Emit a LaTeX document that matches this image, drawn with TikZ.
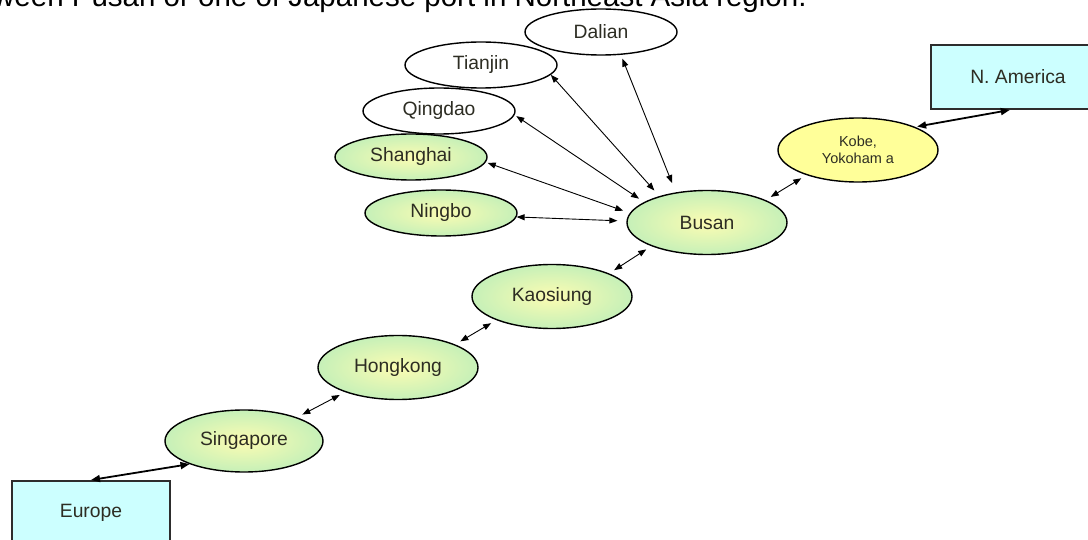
\documentclass[tikz,border=0pt]{standalone}
\usepackage{fontspec}
\setmainfont{Liberation Sans}
\usetikzlibrary{arrows.meta,shapes.geometric,calc}
\definecolor{gout}{RGB}{198,240,184}
\definecolor{gin}{RGB}{252,252,178}
\definecolor{kobefill}{RGB}{255,255,153}
\definecolor{boxfill}{RGB}{204,255,255}
\definecolor{boxline}{RGB}{45,45,45}
\definecolor{txt}{RGB}{45,45,35}
\begin{document}
\begin{tikzpicture}[x=1pt,y=-1pt,
  port/.style={ellipse, draw=black, line width=1.4pt, inner sep=0pt,
    minimum width=160pt, minimum height=64pt,
    font=\fontsize{19.3}{22}\selectfont, text=txt},
  greenport/.style={port, inner color=gin, outer color=gout},
  smallport/.style={port, minimum width=152pt, minimum height=46pt},
  whiteport/.style={smallport, fill=white},
  smallgreen/.style={smallport, inner color=gin, outer color=gout},
  region/.style={rectangle, draw=boxline, line width=2pt, fill=boxfill,
    inner sep=0pt, minimum height=64pt,
    font=\fontsize{19.3}{22}\selectfont, text=txt},
  link/.style={{Triangle[length=8pt,width=6pt]}-{Triangle[length=8pt,width=6pt]},
    line width=0.9pt, black},
  thicklink/.style={{Triangle[length=9pt,width=7pt]}-{Triangle[length=9pt,width=7pt]},
    line width=1.8pt, black}
]
\useasboundingbox (0,0) rectangle (1088,540);
\clip (0,0) rectangle (1088,540);

\node[anchor=base west, inner sep=0pt, font=\fontsize{29.5}{35}\selectfont]
  (title) at (-7,6.5) {ween Pusan or one of Japanese port in Northeast Asia region.};

\node[whiteport] (dalian) at (601,32) {Dalian};
\node[whiteport] (tianjin) at (481,65) {Tianjin};
\node[whiteport] (qingdao) at (439,111) {Qingdao};
\node[smallgreen] (shanghai) at (411,157) {Shanghai};
\node[smallgreen] (ningbo) at (441,213) {Ningbo};

\node[greenport] (busan) at (707,222.5) {Busan};
\node[greenport] (kaosiung) at (552,296.5) {Kaosiung};
\node[greenport] (hongkong) at (398,367.5) {Hongkong};
\node[greenport, minimum width=158pt, minimum height=62pt] (singapore) at (244,441) {Singapore};
\node[port, fill=kobefill, align=center, font=\fontsize{14.5}{16.5}\selectfont]
  (kobe) at (858,150) {Kobe,\\Yokoham a};

\node[region, minimum width=158pt] (europe) at (91,513) {Europe};
\node[region, minimum width=174pt] (namerica) at (1018,77) {N. America};

% chain
\draw[thicklink] (europe.north) -- (singapore.203);
\draw[link, shorten <=6pt, shorten >=6pt] (singapore.24) -- (hongkong.205);
\draw[link, shorten <=6pt, shorten >=6pt] (hongkong.22) -- (kaosiung.203);
\draw[link, shorten <=6pt, shorten >=6pt] (kaosiung.22) -- (busan.203);
\draw[link, shorten <=6pt, shorten >=6pt] (busan.21) -- (kobe.206);
\draw[thicklink, shorten <=2pt] (kobe.22) -- (namerica.-104);

% star to Busan
\draw[link, shorten >=9pt] (ningbo.-3) -- (busan.179);
\draw[link, shorten <=2pt, shorten >=7pt] (shanghai.-4) -- (busan.173);
\draw[link, shorten <=2pt, shorten >=6pt] (qingdao.-3) -- (busan.162);
\draw[link, shorten >=7.5pt] (tianjin.-8) -- (busan.151);
\draw[link, shorten <=4pt, shorten >=10pt] (dalian.-49) -- (busan.136.5);
\end{tikzpicture}
\end{document}
